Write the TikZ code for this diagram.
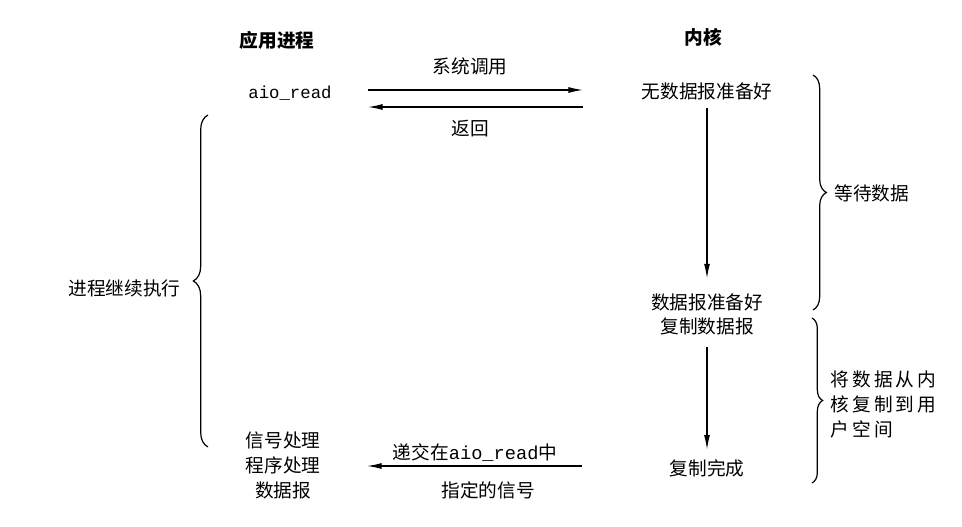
\documentclass[tikz,border=0pt]{standalone}
\usepackage{fontspec}
\setmainfont{Noto Sans CJK SC}
\setmonofont{Liberation Mono}
\usetikzlibrary{arrows.meta,decorations.pathreplacing}
\tikzset{
  lbl/.style={font=\fontsize{14}{18.75}\selectfont, inner sep=1pt},
  head/.style={font=\fontsize{14}{18.75}\selectfont\bfseries, inner sep=1pt},
  code/.style={font=\fontsize{13}{18.75}\selectfont\ttfamily, inner sep=1pt},
  flow/.style={->, line width=0.9pt},
  bracket/.style={decorate, decoration={brace, amplitude=#1}, line width=0.9pt}
}
\begin{document}
\begin{tikzpicture}[x=0.75pt,y=-0.75pt,>={Latex[length=11pt,width=4.5pt]}]
\useasboundingbox (0,0) rectangle (962,527);

\node(App)[head] at (277,40){应用进程};
\node(Kern)[head] at (703,37){内核};

\node(Read)[code] at (290,93){aio\_read};
\node(Call)[lbl] at (470,66){系统调用};
\node(Ret)[lbl] at (470,129){返回};
\coordinate(CallA) at (368,90);
\coordinate(CallB) at (583,90);
\coordinate(RetA) at (583,107);
\coordinate(RetB) at (368,107);
\draw (CallA) edge[flow] (CallB);
\draw (RetA) edge[flow] (RetB);

\node(NoData)[lbl] at (707,91){无数据报准备好};
\node(Ready)[lbl] at (707,302){数据报准备好};
\node(Copy)[lbl] at (707,326){复制数据报};
\node(Done)[lbl] at (707,468){复制完成};
\draw (NoData) edge[flow, shorten <=5pt, shorten >=10pt] (Ready);
\draw (Copy) edge[flow, shorten <=8pt, shorten >=6pt] (Done);

% braces
\coordinate(WaitA) at (813,75);
\coordinate(WaitB) at (813,310);
\draw[bracket=10pt] (WaitA) -- (WaitB);
\node(Wait)[lbl, anchor=west] at (833,193){等待数据};

\coordinate(CopyA) at (812,318);
\coordinate(CopyB) at (812,483);
\draw[bracket=8pt] (CopyA) -- (CopyB);
\node(Move)[lbl, anchor=west, align=left, text width=105pt] at (829,404)
  {将\,数\,据\,从\,内\\核\,复\,制\,到\,用\\户\,空\,间};

\coordinate(GoA) at (208,447);
\coordinate(GoB) at (208,115);
\draw[bracket=11pt] (GoA) -- (GoB);
\node(Go)[lbl, anchor=east] at (182,288){进程继续执行};

% signal delivery
\node(Handler)[lbl, align=center] at (283,465){信号处理\\程序处理\\数据报};
\node(Deliver)[lbl] at (475,453){递交在{\ttfamily aio\_read}中};
\node(Signal)[lbl] at (488,490){指定的信号};
\coordinate(SigA) at (582,466);
\coordinate(SigB) at (367,466);
\draw (SigA) edge[flow] (SigB);
\end{tikzpicture}
\end{document}
